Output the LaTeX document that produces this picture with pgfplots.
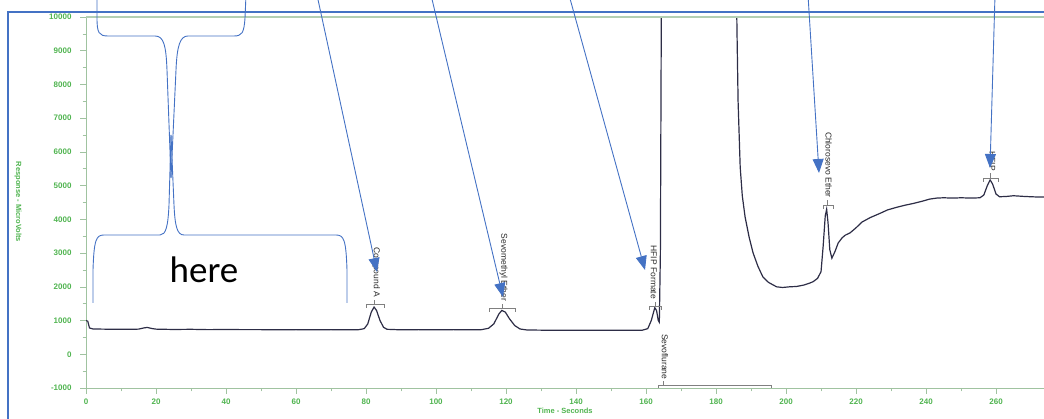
\documentclass[border=0pt]{standalone}
\usepackage{fontspec}
\setmainfont{Liberation Sans}
\newfontfamily\calibri{Carlito}
\usepackage{pgfplots}
\usepackage{pgfplotstable}
\pgfplotsset{compat=1.18}
\usetikzlibrary{arrows.meta}
\definecolor{annblue}{RGB}{68,114,196}
\definecolor{tickgreen}{RGB}{80,180,80}
\definecolor{axgreen}{RGB}{160,195,160}
\definecolor{sig}{RGB}{45,45,70}
\definecolor{lab}{RGB}{40,40,40}

\pgfplotstableread{
t v
0 1000
0.5 980
1 780
2 750
5 745
10 740
15 745
16.5 780
17.5 795
19 760
20 745
25 735
30 740
35 730
40 735
45 730
50 730
55 725
60 730
65 725
70 730
75 725
78 730
79.5 760
80.5 900
81.5 1250
82.3 1400
83 1300
84 1000
85 800
86 740
90 725
95 730
100 725
105 730
110 725
113 730
115 770
116.5 900
118 1200
118.8 1300
119.8 1250
121 1050
122.5 850
124 750
126 720
130 715
135 710
140 710
145 712
150 710
155 712
159 715
160.5 760
161.5 1000
162.5 1380
163 1300
163.5 1000
163.8 950
164.1 3000
164.4 11000
185.8 11000
186 9500
186.3 7500
186.9 5550
187.5 4700
188.3 4070
189.5 3450
190.6 3000
192 2600
193.4 2290
195 2130
197.3 2000
199 1980
201 2000
203 2010
205 2050
206.5 2100
207.7 2150
209 2250
210 2450
210.6 3200
211.2 4100
211.6 4300
212 3900
212.5 3100
213.1 2850
214 3050
214.9 3300
216 3450
216.9 3530
218.3 3600
220 3750
221.7 3920
224 4050
226.9 4180
229 4280
231.7 4360
234 4420
236.3 4470
239 4540
241 4600
243 4630
245 4640
247.7 4630
250 4640
253 4630
255.4 4640
256.5 4720
257.5 5000
258.3 5170
259 5050
260 4750
261 4670
263 4680
265 4700
268 4680
270 4670
272.6 4660
275 4660
}\signal

\begin{document}
\begin{tikzpicture}
\path[use as bounding box] (0,0) rectangle (1044pt,419pt);
\clip (0,0) rectangle (1044pt,419pt);
\begin{axis}[
 at={(86pt,31pt)}, anchor=south west,
 width=958pt, height=371pt, scale only axis,
 xmin=0, xmax=273.7, ymin=-1000, ymax=10000,
 axis lines=left, axis line style={-, draw=axgreen, line width=0.8pt},
 tick align=outside, tick style={draw=axgreen, line width=0.6pt},
 major tick length=6pt, minor tick length=3.5pt,
 xtick={0,20,...,260}, ytick={-1000,0,...,10000},
 minor x tick num=1, minor y tick num=1,
 scaled ticks=false,
 /pgf/number format/1000 sep={},
 /pgf/number format/assume math mode=true,
 tick label style={font=\fontsize{8}{9}\selectfont\bfseries, text=tickgreen},
 yticklabel style={xshift=-5pt},
 xticklabel style={yshift=-1pt},
 clip=true,
]
\addplot[sig, line width=1.2pt] table[x=t, y=v] {\signal};
% integration brackets
\addplot[gray, line width=0.6pt, forget plot] coordinates {(80,1380) (80,1480) (85.1,1480) (85.1,1380)};
\addplot[gray, line width=0.6pt, forget plot] coordinates {(82.4,1480) (82.4,1620)};
\addplot[gray, line width=0.6pt, forget plot] coordinates {(115.1,1260) (115.1,1360) (122.6,1360) (122.6,1260)};
\addplot[gray, line width=0.6pt, forget plot] coordinates {(118.8,1360) (118.8,1500)};
\addplot[gray, line width=0.6pt, forget plot] coordinates {(160.9,1320) (160.9,1420) (164.3,1420) (164.3,1320)};
\addplot[gray, line width=0.6pt, forget plot] coordinates {(162.6,1420) (162.6,1560)};
\addplot[gray, line width=0.6pt, forget plot] coordinates {(210.6,4320) (210.6,4420) (213.4,4420) (213.4,4320)};
\addplot[gray, line width=0.6pt, forget plot] coordinates {(211.7,4420) (211.7,4560)};
\addplot[gray, line width=0.6pt, forget plot] coordinates {(256.3,5120) (256.3,5220) (260.6,5220) (260.6,5120)};
\addplot[gray, line width=0.6pt, forget plot] coordinates {(258.4,5220) (258.4,5360)};
\addplot[gray, line width=0.6pt, forget plot] coordinates {(163.4,-1000) (163.4,-920) (195.7,-920) (195.7,-1000)};
\addplot[gray, line width=0.6pt, forget plot] coordinates {(164.9,-920) (164.9,-800)};
% peak labels
\begin{scope}[every node/.style={font=\fontsize{8.5}{9}\selectfont, text=lab, inner sep=0.5pt}]
\node[rotate=-90, anchor=east] at (axis cs:82.9,1680) {Compound A};
\node[rotate=-90, anchor=east] at (axis cs:119.3,1560) {Sevomethyl Ether};
\node[rotate=-90, anchor=east] at (axis cs:162.2,1620) {HFIP Formate};
\node[rotate=-90, anchor=east] at (axis cs:212.2,4620) {Chlorosevo Ether};
\node[rotate=-90, anchor=east] at (axis cs:258.9,5420) {HFIP};
\node[rotate=-90, anchor=west] at (axis cs:165.4,620) {Sevoflurane};
\end{scope}
\end{axis}
\begin{scope}[x=1pt, y=-1pt, yshift=419pt]
\draw[axgreen!80, line width=1.6pt] (86,17) -- (1050,17);
\node[rotate=-90, text=tickgreen, font=\fontsize{7.5}{8}\selectfont\bfseries] at (18,202) {Response - MicroVolts};
\node[text=tickgreen, font=\fontsize{7.5}{8}\selectfont\bfseries] at (565,411) {Time - Seconds};
% frame
\draw[annblue, line width=1.3pt] (8,440) -- (8,12) -- (1060,12);
% arrows
\begin{scope}[annblue, line width=0.9pt, -{Triangle[length=14pt, width=11pt]}]
\draw (317,-5) -- (377,272);
\draw (431,-5) -- (503,297);
\draw (569,-5) -- (645,270);
\draw (808,-5) -- (819,173);
\draw (995,-5) -- (990,168);
\end{scope}
% braces
\begin{scope}[annblue, line width=0.9pt]
\draw (97,-5) -- (97,18) .. controls (97,33) and (99,36) .. (108,36) -- (155,36) .. controls (164,36) and (166,46) .. (167,70) -- (171,178);
\draw (246,-5) -- (245,18) .. controls (244,33) and (242,36) .. (234,36) -- (188,36) .. controls (180,36) and (177,46) .. (176,70) -- (171,178);
\draw (93,303) -- (93,270) .. controls (94,240) and (96,235) .. (104,235) -- (160,235) .. controls (166,235) and (168,226) .. (169,205) -- (171,135);
\draw (347,303) -- (347,270) .. controls (346,240) and (344,235) .. (336,235) -- (184,235) .. controls (177,235) and (175,226) .. (174,205) -- (171,135);
\end{scope}
\node[font=\calibri\fontsize{37}{40}\selectfont] at (204,270) {here};
\end{scope}
\end{tikzpicture}
\end{document}
